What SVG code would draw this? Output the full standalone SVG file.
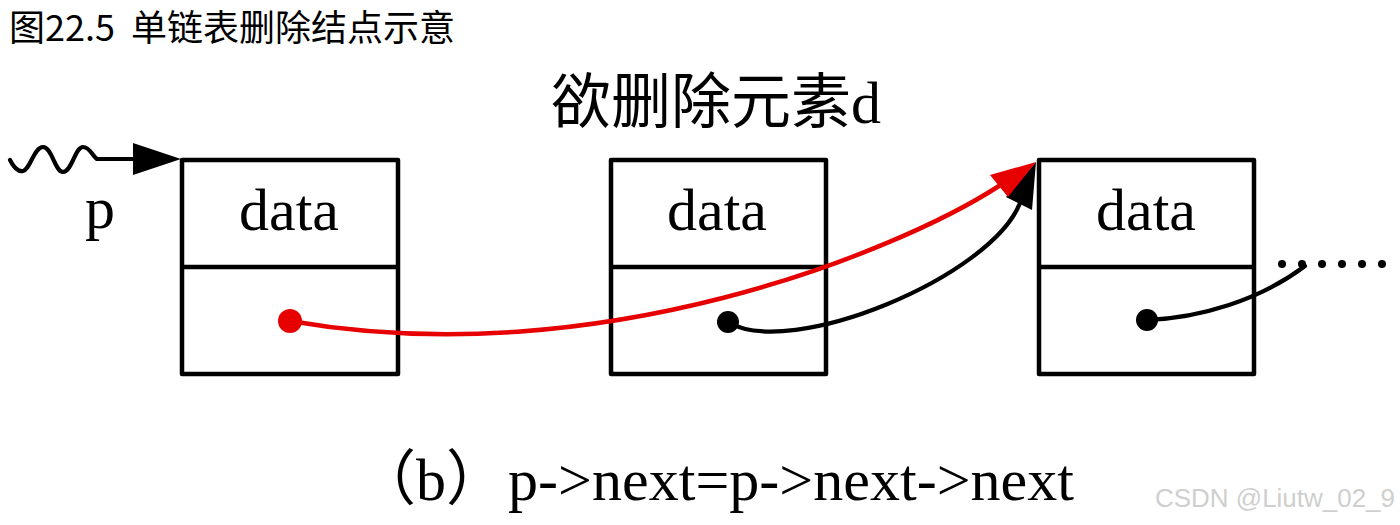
<svg xmlns="http://www.w3.org/2000/svg" width="1400" height="525" viewBox="0 0 1400 525">
<style>
.box{fill:none;stroke:#000;stroke-width:4.5;stroke-linejoin:round}
.div{stroke:#000;stroke-width:4.5}
.lbl{font-family:"Liberation Serif","Noto Sans CJK SC",serif;font-size:60px;fill:#000}
.big{font-family:"Liberation Serif","Noto Sans CJK SC",serif;font-size:60px;fill:#000}
.cap{font-family:"Noto Sans CJK SC","Noto Sans",sans-serif;font-size:36px;fill:#000}
.wm{font-family:"Liberation Sans",Arial,sans-serif;font-size:25px;fill:#cfcfcf}
.blk{fill:none;stroke:#000;stroke-width:4.2;stroke-linecap:round}
.red{fill:none;stroke:#e60000;stroke-width:4.5;stroke-linecap:round}
</style>
<rect width="1400" height="525" fill="#fff"/>
<text class="cap" y="41"><tspan x="9">图22.5</tspan><tspan x="131">单链表删除结点示意</tspan></text>
<text class="big" x="551" y="123">欲删除元素d</text>
<text class="big" x="356" y="500">（b）</text>
<text class="big" x="508" y="500" textLength="566" lengthAdjust="spacingAndGlyphs">p-&gt;next=p-&gt;next-&gt;next</text>
<text class="lbl" x="85" y="228">p</text>
<g id="node1">
<rect class="box" x="182" y="160" width="216" height="214"/>
<line class="div" x1="182" y1="267" x2="398" y2="267"/>
<text class="lbl" x="289" y="230" text-anchor="middle">data</text>
</g>
<g id="node2">
<rect class="box" x="611" y="160" width="215" height="214"/>
<line class="div" x1="611" y1="267" x2="826" y2="267"/>
<text class="lbl" x="717" y="230" text-anchor="middle">data</text>
</g>
<g id="node3">
<rect class="box" x="1039" y="160" width="215" height="214"/>
<line class="div" x1="1039" y1="267" x2="1254" y2="267"/>
<text class="lbl" x="1146" y="230" text-anchor="middle">data</text>
</g>
<g id="connectors">
<path class="blk" d="M10,160 C14,168 18,172 23,171 C30,170 34,147 43,147 C52,147 55,172 63,172 C72,172 75,147 83,147 C90,147 93,157 97,159 L140,159"/>
<polygon points="133,143 181,159 133,175" fill="#000"/>
<path class="blk" d="M728,322 C790,360 991,277 1020,203"/>
<polygon points="1036,162 1032,210 1006,197" fill="#000"/>
<circle cx="728" cy="322" r="11" fill="#000"/>
<path class="red" d="M290,321 C600,375 900,250 999,186"/>
<polygon points="1036,162 990,175 1008,197" fill="#e60000"/>
<circle cx="290" cy="321" r="12" fill="#e60000"/>
<path class="blk" d="M1147,320 C1200,318 1260,300 1305,266"/>
<circle cx="1147" cy="320" r="11" fill="#000"/>
<g fill="#000">
<circle cx="1282" cy="264" r="4"/>
<circle cx="1302" cy="264" r="4"/>
<circle cx="1322" cy="264" r="4"/>
<circle cx="1342" cy="264" r="4"/>
<circle cx="1362" cy="264" r="4"/>
<circle cx="1382" cy="264" r="4"/>
</g>
</g>
<text class="wm" x="1155" y="507" textLength="240" lengthAdjust="spacingAndGlyphs">CSDN @Liutw_02_9</text>
</svg>
